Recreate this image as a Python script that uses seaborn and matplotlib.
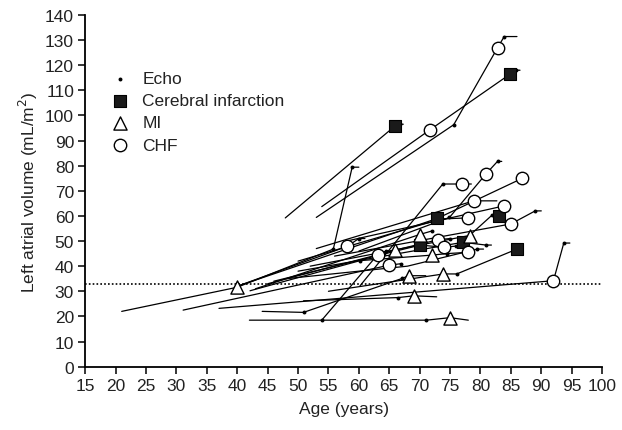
import pandas as pd
import seaborn as sns
import matplotlib
matplotlib.use("Agg")
import matplotlib.pyplot as plt

# patient trajectories: age (years) and left atrial volume (mL/m2) at each echo
traj_age = [
    [21, 40, 55.8, 58.9, 60.0],
    [40, 58.1, 60, 61],
    [40, 72.9, 86.9],
    [47.9, 66, 66.7, 67.3],
    [53.9, 71.7, 84.9, 85.8, 86.5],
    [53.0, 75.6, 82.8, 83.9, 86.0],
    [37.0, 92, 93.7, 94.7],
    [42, 53.9, 63.1, 64.5],
    [53.9, 71.1, 75, 78],
    [44.1, 50.9, 67.1, 68.2, 71],
    [55, 73.9, 76.1, 86],
    [50.9, 66.5, 69, 72.8],
    [31.1, 65, 67],
    [42.1, 60.2, 72, 74.5, 77.9],
    [45, 66, 73, 75],
    [43, 70, 72],
    [46, 70.1, 74, 76],
    [60.2, 73.8, 76.9, 78.5],
    [50, 77.1, 80.9, 81.8],
    [52, 78.2, 81.9, 83, 84],
    [50, 73.5, 77.9, 79],
    [60, 74.9, 80.9, 82.8, 83.5],
    [53, 78.9, 82.7],
    [58, 83.9],
    [56, 85, 89, 90],
    [48, 68, 79.5, 80.5],
]
traj_lav = [
    [22, 31.6, 46.8, 79.4, 79.4],
    [32, 47.9, 51, 51],
    [32, 59.0, 75],
    [59.2, 95.9, 96.5, 96.5],
    [63.7, 94.3, 116.5, 118, 118],
    [59.4, 96.3, 126.9, 131.4, 131.4],
    [23.2, 34.2, 49.2, 49.2],
    [18.5, 18.5, 44.6, 46],
    [18.5, 18.5, 19.5, 18.5],
    [22, 21.6, 35.1, 36.2, 36.2],
    [30, 36.9, 36.9, 46.8],
    [26.2, 27.5, 28.2, 27.8],
    [22.5, 40.4, 41],
    [30.2, 42.2, 44.4, 45, 45.5],
    [33, 46.4, 50.5, 51],
    [31, 52.6, 54],
    [34, 48.4, 47.5, 48],
    [32.2, 72.7, 72.7, 72.7],
    [38, 49.5, 48.4, 48.4],
    [40, 52.2, 60.3, 59.8, 60],
    [42, 58.8, 59.2, 59.2],
    [46, 59.4, 76.7, 81.7, 81.7],
    [47, 66, 66],
    [50, 64],
    [44, 56.8, 62, 62],
    [35, 40, 46.8, 46.8],
]

echo_age = [55.8, 58.9, 60, 66.7, 85.8, 75.6, 83.9, 93.7, 53.9, 64.5, 71.1, 50.9,
            67.1, 76.1, 66.5, 67, 60.2, 74.5, 75, 72, 76, 73.8, 80.9, 81.9, 73.5,
            74.9, 82.8, 89, 79.5]
echo_lav = [46.8, 79.4, 51, 96.5, 118, 96.3, 131.4, 49.2, 18.5, 46, 18.5, 21.6,
            35.1, 36.9, 27.5, 41, 42.2, 45, 51, 54, 48, 72.7, 48.4, 60.3, 58.8,
            59.4, 81.7, 62, 46.8]

ci_age = [66, 84.9, 72.9, 83, 70.1, 77.1, 86]
ci_lav = [95.9, 116.5, 59.0, 59.8, 48.4, 49.5, 46.8]

mi_age = [40, 66, 68.2, 69, 70, 72, 73.9, 75, 78.2]
mi_lav = [31.6, 46.4, 36.2, 28.2, 52.6, 44.4, 36.9, 19.5, 52.2]

chf_age = [58.1, 63.1, 65, 73, 74, 77.9, 77.9, 76.9, 80.9, 78.9, 86.9, 83.9, 85,
           92, 71.7, 82.8]
chf_lav = [47.9, 44.6, 40.4, 50.5, 47.5, 45.5, 59.2, 72.7, 76.7, 66, 75, 64, 56.8,
           34.2, 94.3, 126.9]

normal_limit = 33

rows = []
for pid, (ages, lavs) in enumerate(zip(traj_age, traj_lav)):
    for order, (a, v) in enumerate(zip(ages, lavs)):
        rows.append({"pid": pid, "order": order, "age": a, "lav": v})
df = pd.DataFrame(rows)

sns.set_theme(style="ticks")
plt.rcParams["font.family"] = ["Liberation Sans", "DejaVu Sans"]

fig = plt.figure(figsize=(6.22, 4.31), dpi=100)
ax = fig.add_axes([0.137, 0.147, 0.831, 0.816])

ax.axhline(normal_limit, color="black", linestyle=(0, (1, 1.3)), linewidth=1.2, zorder=1)

sns.lineplot(data=df, x="age", y="lav", units="pid", estimator=None, sort=False,
             color="black", linewidth=0.9, ax=ax, legend=False, zorder=2)

sns.scatterplot(x=echo_age, y=echo_lav, color="black", marker="o", s=8,
                linewidth=0, ax=ax, label="Echo", zorder=3)
sns.scatterplot(x=ci_age, y=ci_lav, color="#1a1a1a", marker="s", s=80,
                linewidth=0.8, edgecolor="black", ax=ax, label="Cerebral infarction", zorder=4)
sns.scatterplot(x=mi_age, y=mi_lav, color="white", marker="^", s=90,
                linewidth=1.0, edgecolor="black", ax=ax, label="MI", zorder=4)
sns.scatterplot(x=chf_age, y=chf_lav, color="white", marker="o", s=80,
                linewidth=1.0, edgecolor="black", ax=ax, label="CHF", zorder=4)

ax.set_xlim(15, 100)
ax.set_ylim(0, 140)
ax.set_xticks(range(15, 101, 5))
ax.set_yticks(range(0, 141, 10))
ax.tick_params(axis="both", labelsize=12.5, length=5, width=1.1, color="black",
               labelcolor="#222222", pad=3)
for side in ["left", "bottom"]:
    ax.spines[side].set_linewidth(1.3)
    ax.spines[side].set_color("black")
sns.despine(ax=ax)

ax.set_xlabel("Age (years)", fontsize=12.5, color="#222222", labelpad=6)
ax.set_ylabel("Left atrial volume (mL/m$^2$)", fontsize=12.5, color="#222222", labelpad=4)

leg = ax.legend(loc="upper left", bbox_to_anchor=(0.02, 0.86), frameon=False,
                fontsize=12.5, handletextpad=0.3, labelspacing=0.4,
                borderaxespad=0, markerscale=1.0)
for t in leg.get_texts():
    t.set_color("#222222")

fig.savefig("out.png", dpi=100)
